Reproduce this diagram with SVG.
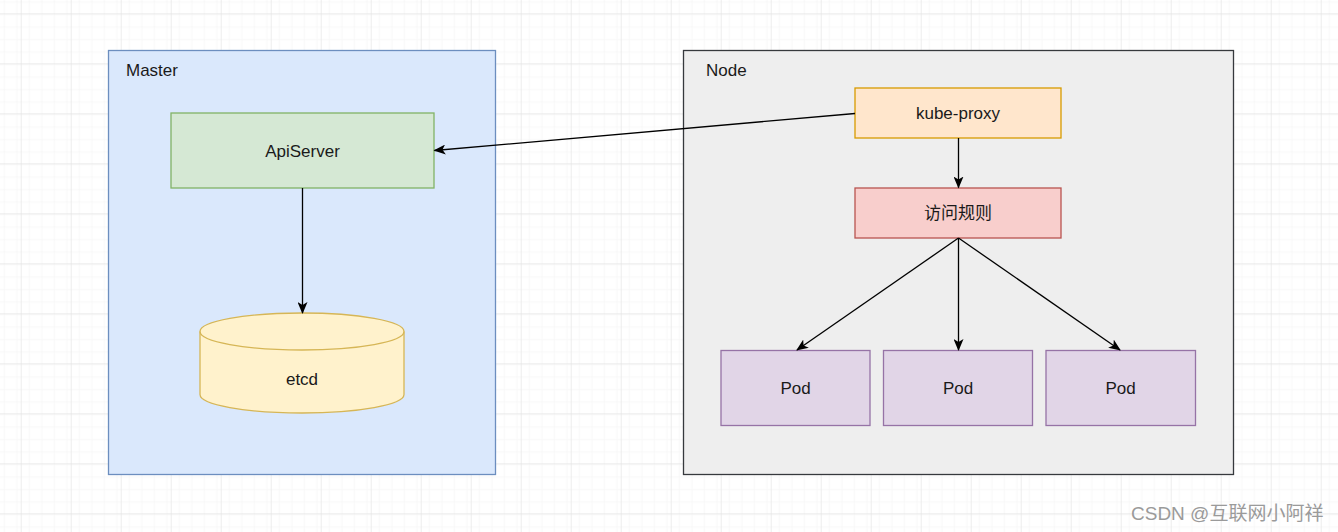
<svg xmlns="http://www.w3.org/2000/svg" width="1338" height="532" viewBox="0 0 1338 532">
<style>
text{font-family:"Liberation Sans",Arial,"Noto Sans CJK SC",sans-serif;font-size:17px;fill:#1a1a1a}
.c{text-anchor:middle;dominant-baseline:central}
.edge{stroke:#000;stroke-width:1.3;fill:none;marker-end:url(#arr)}
</style>
<defs>
<pattern id="minor" width="12.5" height="12.5" patternUnits="userSpaceOnUse" x="20.7" y="13.3">
<path d="M0 0H12.5M0 0V12.5" stroke="#f1f1f1" stroke-width="1" fill="none"/>
</pattern>
<pattern id="major" width="50" height="50" patternUnits="userSpaceOnUse" x="20.7" y="13.3">
<rect width="50" height="50" fill="url(#minor)"/>
<path d="M0 0H50M0 0V50" stroke="#dcdcdc" stroke-width="1" fill="none"/>
</pattern>
<marker id="arr" viewBox="0 0 12 10" refX="11" refY="5" markerWidth="12" markerHeight="10" markerUnits="userSpaceOnUse" orient="auto">
<path d="M0 0L12 5L0 10L3 5Z" fill="#000"/>
</marker>
</defs>
<rect width="1338" height="532" fill="#fff"/>
<rect width="1338" height="532" fill="url(#major)"/>

<g id="master">
<rect x="108.5" y="50.5" width="387" height="424" fill="#dae8fc" stroke="#6c8ebf" stroke-width="1.3"/>
<text x="126" y="70" dominant-baseline="central">Master</text>
</g>
<g id="node">
<rect x="683.5" y="50.5" width="550" height="424" fill="#eeeeee" stroke="#36393d" stroke-width="1.3"/>
<text x="706" y="70" dominant-baseline="central">Node</text>
</g>
<g id="apiserver">
<rect x="171" y="113" width="263" height="75" fill="#d5e8d4" stroke="#82b366" stroke-width="1.3"/>
<text class="c" x="302.5" y="151">ApiServer</text>
</g>
<g id="etcd">
<path d="M200 331.5A102 18.5 0 0 1 404 331.5V394.5A102 18.5 0 0 1 200 394.5Z" fill="#fff2cc" stroke="#d6b656" stroke-width="1.3"/>
<path d="M200 331.5A102 18.5 0 0 0 404 331.5" fill="none" stroke="#d6b656" stroke-width="1.3"/>
<text class="c" x="302" y="379">etcd</text>
</g>
<g id="kube-proxy">
<rect x="855" y="88" width="206" height="50" fill="#ffe6cc" stroke="#d79b00" stroke-width="1.3"/>
<text class="c" x="958" y="113">kube-proxy</text>
</g>
<g id="rules">
<rect x="855" y="188" width="206" height="50" fill="#f8cecc" stroke="#b85450" stroke-width="1.3"/>
<text class="c" x="958" y="213">访问规则</text>
</g>
<g id="pod1">
<rect x="721" y="350.5" width="149" height="75" fill="#e1d5e7" stroke="#9673a6" stroke-width="1.3"/>
<text class="c" x="795.5" y="388">Pod</text>
</g>
<g id="pod2">
<rect x="883.5" y="350.5" width="149" height="75" fill="#e1d5e7" stroke="#9673a6" stroke-width="1.3"/>
<text class="c" x="958" y="388">Pod</text>
</g>
<g id="pod3">
<rect x="1046" y="350.5" width="149.5" height="75" fill="#e1d5e7" stroke="#9673a6" stroke-width="1.3"/>
<text class="c" x="1120.5" y="388">Pod</text>
</g>

<g id="connectors">
<path class="edge" d="M855 113.5L434.5 150.5"/>
<path class="edge" d="M302.5 188V313"/>
<path class="edge" d="M958.5 138V187.5"/>
<path class="edge" d="M958.5 238L797 350"/>
<path class="edge" d="M958.5 238V350"/>
<path class="edge" d="M958.5 238L1120 350"/>
</g>

<text x="1131" y="513" dominant-baseline="central" style="fill:#9a9a9a;font-size:19px">CSDN @互联网小阿祥</text>
</svg>
